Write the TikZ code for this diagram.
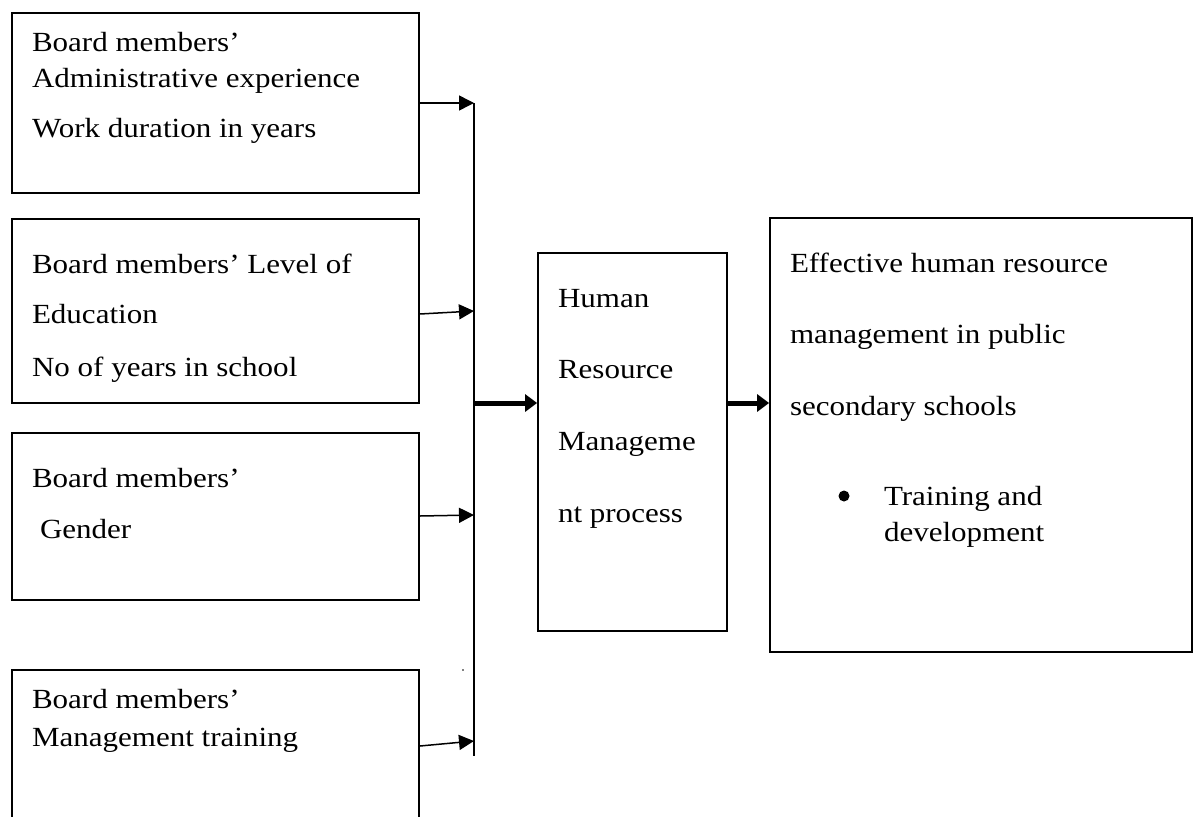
\documentclass[tikz,border=0pt]{standalone}
\usepackage{fontspec}
\setmainfont{Liberation Serif}[FakeStretch=1.12]
\usetikzlibrary{arrows.meta}
\begin{document}
\begin{tikzpicture}[x=1pt,y=-1pt,
  box/.style={draw, line width=1.8pt, minimum width=407pt, inner sep=0pt},
  txt/.style={anchor=base west, inner sep=0pt, outer sep=0pt,
              font=\fontsize{27.7}{33}\selectfont},
  feed/.style={line width=1.5pt, -{Triangle[length=15pt,width=15pt]}},
  flow/.style={line width=5pt, -{Triangle[length=12pt,width=17pt]}}]
\useasboundingbox (0,0) rectangle (1193,816);
\clip (0,0) rectangle (1193,816);

% input boxes
\node[box, minimum height=180pt] (b1) at (215.5,103) {};
\node[box, minimum height=184pt] (b2) at (215.5,311) {};
\node[box, minimum height=167pt] (b3) at (215.5,516.5) {};
\node[box, minimum height=200pt] (b4) at (215.5,770) {};

% process and outcome boxes
\node[box, minimum width=189pt, minimum height=378pt] (mid) at (632.5,442) {};
\node[box, minimum width=422pt, minimum height=434pt] (res) at (981,435) {};

% texts of the input boxes
\node[txt] (t1a) at (32,52) {Board members’};
\node[txt] (t1b) at (32,87) {Administrative experience};
\node[txt] (t1c) at (32,137) {Work duration in years};
\node[txt] (t2a) at (32,273) {Board members’ Level of};
\node[txt] (t2b) at (32,323) {Education};
\node[txt] (t2c) at (32,376) {No of years in school};
\node[txt] (t3a) at (32,487) {Board members’};
\node[txt] (t3b) at (40,538) {Gender};
\node[txt] (t4a) at (32,708) {Board members’};
\node[txt] (t4b) at (32,746) {Management training};

% text of the process box
\node[txt] (m1) at (558,307) {Human};
\node[txt] (m2) at (558,378) {Resource};
\node[txt] (m3) at (558,450) {Manageme};
\node[txt] (m4) at (558,522) {nt process};

% text of the outcome box
\node[txt] (r1) at (790,272) {Effective human resource};
\node[txt] (r2) at (790,343) {management in public};
\node[txt] (r3) at (790,415) {secondary schools};
\node[circle, fill, inner sep=0pt, minimum size=11pt] (rb) at (844,496) {};
\node[txt] (r4) at (884,505) {Training and};
\node[txt] (r5) at (884,541) {development};

% collecting bus
\coordinate (busTop) at (474,103);
\coordinate (busBot) at (474,756);
\coordinate (busJ) at (474,403);
\draw[line width=1.5pt] (busTop) -- (busBot);

\coordinate (in1) at (474,103);
\coordinate (in2) at (474,311);
\coordinate (in3) at (474,515);
\coordinate (in4) at (474,741);
\draw[feed] (b1.east |- 0,103) -- (in1);
\draw[feed] (b2.east |- 0,314) -- (in2);
\draw[feed] (b3.east |- 0,516) -- (in3);
\draw[feed] (b4.east |- 0,746) -- (in4);

% main flow
\draw[flow] (busJ) -- (busJ -| mid.west);
\draw[flow] (mid.east |- busJ) -- (res.west |- busJ);

% stray dot
\fill (463,670) circle (0.9pt);
\end{tikzpicture}
\end{document}
